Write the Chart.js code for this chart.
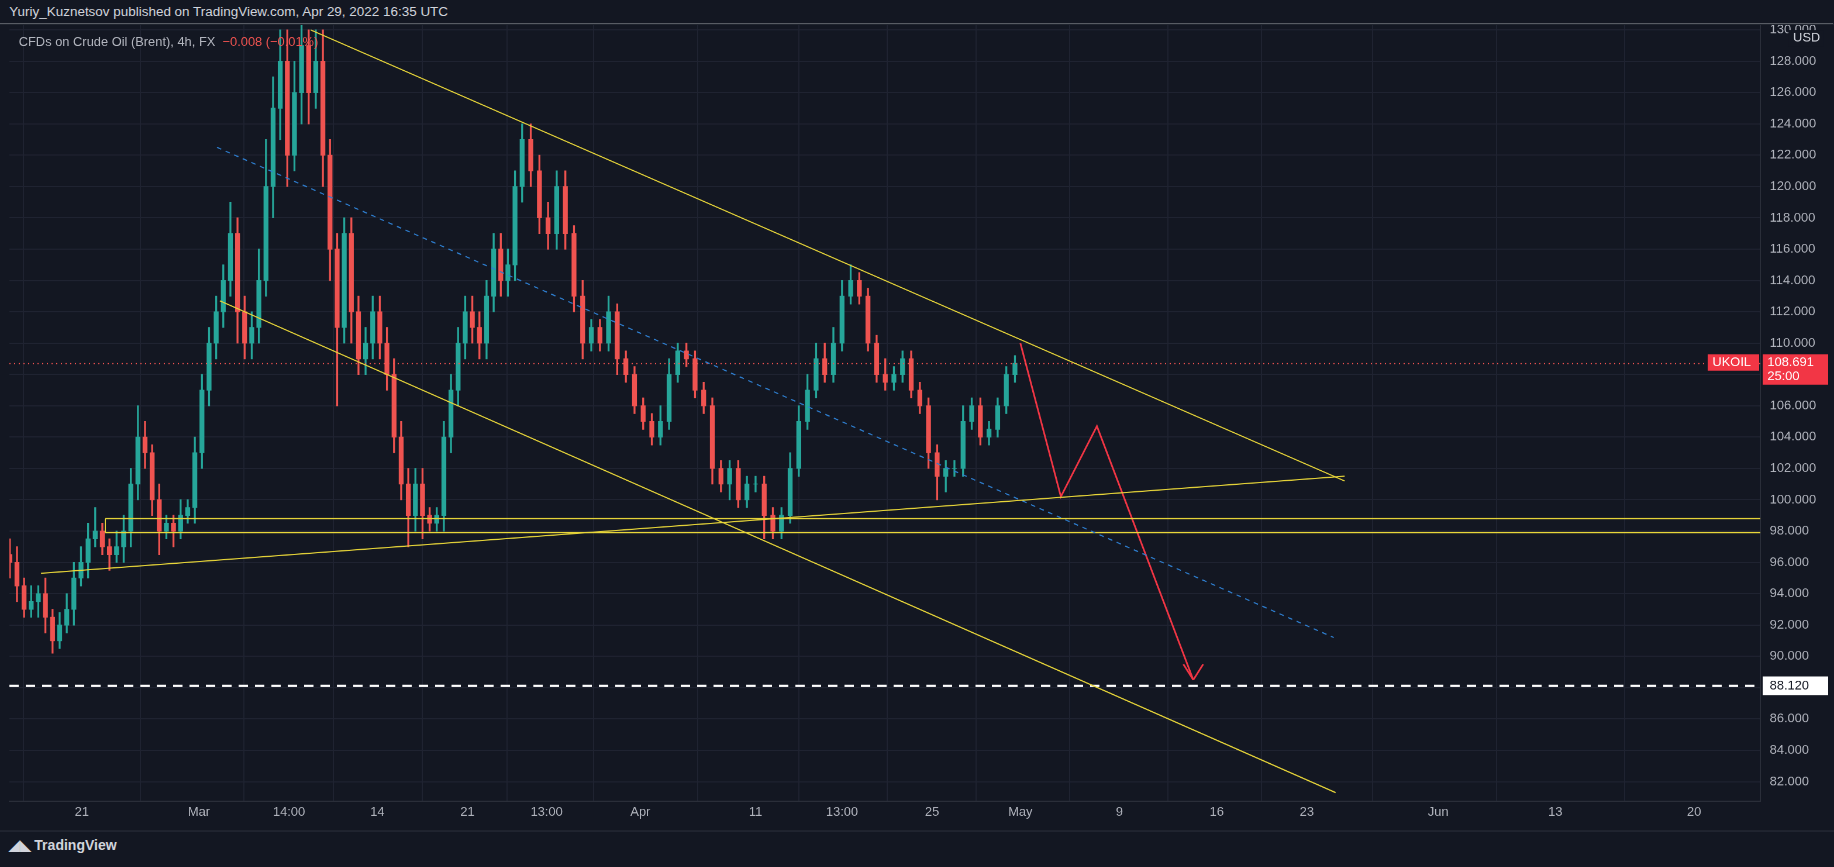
<!DOCTYPE html>
<html><head><meta charset="utf-8">
<script src="https://cdn.jsdelivr.net/npm/chart.js@4"></script>
<style>
html,body{margin:0;padding:0;background:#131722;overflow:hidden;}
#wrap{position:absolute;left:0;top:0;width:1568px;height:741px;transform:scale(1.16964);transform-origin:0 0;background:#131722;font-family:"Liberation Sans",Arial,sans-serif;}
#hdr{position:absolute;left:0;top:0;width:1568px;height:20px;color:#d1d4dc;font-size:11.5px;line-height:20px;padding-left:8px;box-sizing:border-box;z-index:2}
#leg{position:absolute;left:16px;top:29px;color:#b2b5be;font-size:11px;z-index:2}
#leg span{color:#ef5350}
#cv{position:absolute;left:0;top:6px;width:1568px;height:706px;}
#ftr{position:absolute;left:8px;top:716px;color:#d1d4dc;font-size:12px;font-weight:bold;}
#line1{position:absolute;left:0;top:20px;width:1568px;height:1px;background:#2a2e39;z-index:2}
#line2{position:absolute;left:0;top:710px;width:1568px;height:1px;background:#2a2e39}
</style></head><body>
<div id="wrap">
<div id="cv"><canvas id="c"></canvas></div>
<div id="hdr" style="background:#131722">Yuriy_Kuznetsov published on TradingView.com, Apr 29, 2022 16:35 UTC</div>
<div id="line1"></div>
<div id="leg">CFDs on Crude Oil (Brent), 4h, FX&nbsp; <span>−0.008 (−0.01%)</span></div>
<div id="line2"></div>
<div id="ftr">◢◣ TradingView</div>
</div>
<script>
const closes=[96,94.5,93,93.5,94,92.5,91,92,93,95,
96,97.5,98,97,96.5,97,98,101,104,103,
100,98,98.5,98,99,99.5,103,107,110,112,
114,117,112,110,111,114,120,125,128,122,
126,129,126,128,122,116,111,117,112,109,
110,112,110,108,104,101,99,101,99,98.5,
99,104,107,110,112,111,110,113,116,114,
115,120,123,121,118,117,120,117,113,110,
111,110,112,109,108,106,105,104,105,108,
109.5,109,107,106,102,101,102,100,101,101,
99,98,99,102,105,107,109,108,110,113,
114,113,110,108,107.5,108,109,107,106,103,
101.5,102,102,105,106,104,104.5,106,108,108.7];
const wickUp=[1,1,.5,1,.5,1,.5,.8,1,1, 1,1,1.5,.5,.5,1,1,1,2,1, .5,1,.5,.5,1,.5,1,1,1,1, 1,2,1,1,1,2,3,2,2,2, 2,2,1,2,2,1,1,1,1,1, 1,1,1,1,1,1,1,1,1,.5, .5,1,1,1,1,1,1,1,1,1, 1,1,1,1,1,1,1,1,.5,1, .5,.5,1,.5,.5,.5,.5,.5,1,1, .5,.5,.5,.5,.5,.5,.5,.5,.5,.5, .5,.5,.5,1,1,1,1,1,1,1, 1,.5,.5,.5,1,.5,.5,.5,.5,.5, .5,.5,.5,1,.5,.5,.5,.5,.5,.5];
const wickDn=[1,1,.5,.5,1,1,.8,.5,.5,1, .5,1,.5,.5,1,.5,1,1,1,1, 1,1.5,.5,1,.5,.5,1,1,1,1, 1,1,2,1,1,1,1,2,2,2, 1,2,2,1,2,2,5,1,2,1, 1,1,1,1,1,1,2,1,1.5,.5, .5,1,1,1,1,1,1,1,1,1, 1,1,1,1,1,1,1,1,1,1, .5,.5,.5,1,.5,.5,.5,.5,.5,.5, .5,.5,.5,.5,1,.5,1,.5,.5,.5, 1.5,.5,.5,.5,.5,.5,.5,.5,.5,.5, .5,.5,.5,.5,.5,.5,.5,.5,.5,1, 1.5,1,.5,.5,.5,.5,.5,.5,.5,.5];
const firstOpen=96.5, startDay=1.0, stepEarly=0.395, stepLate=0.48, switchIdx=72;
const xTickPos=[5,11.5,16.5,21.4,26.4,30.8,36,42.4,47.2,52.2,57.1,62.6,68,73,80.3,86.8,94.5];
const xTickLbl=["21","Mar","14:00","14","21","13:00","Apr","11","13:00","25","May","9","16","23","Jun","13","20"];
const yTicks=[82,84,86,88,90,92,94,96,98,100,102,104,106,108,110,112,114,116,118,120,122,124,126,128,130];
const upperLine=[17.7,130,75.1,101.2];
const lowerLine=[12.66,112.7,74.6,81.3];
const supportLine=[2.73,95.3,75.1,101.5];
const midDashed=[12.5,122.5,74.5,91.2];
const boxTop=98.8, boxBot=97.9, boxStart=6.3;
const redPathX=[57.1,59.35,61.35,66.7], redPathY=[110,100.2,104.7,88.5];
const targetLevel=88.12, lastPrice=108.691;

const n=closes.length;
const bodies=[],wicks=[],cols=[];
let x=startDay;
for(let i=0;i<n;i++){
  const o=i?closes[i-1]:firstOpen, c=closes[i];
  bodies.push({x,y:[o,c]});
  wicks.push({x,y:[Math.min(o,c)-wickDn[i],Math.max(o,c)+wickUp[i]]});
  cols.push(c>=o?'#26a69a':'#ef5350');
  x+= i<switchIdx?stepEarly:stepLate;
}
const seg=(a,color,dash,w)=>({type:'line',data:[{x:a[0],y:a[1]},{x:a[2],y:a[3]}],borderColor:color,borderWidth:w||1,borderDash:dash||[],pointRadius:0,fill:false,order:0});
const XMIN=0.974,XMAX=98.18;
const datasets=[
 {type:'bar',data:wicks,backgroundColor:cols,barThickness:1,grouped:false,order:3},
 {type:'bar',data:bodies,backgroundColor:cols,barThickness:3.5,grouped:false,order:2},
 seg(upperLine,'#e8d63a'),seg(lowerLine,'#e8d63a'),seg(supportLine,'#e8d63a'),
 seg(midDashed,'#2f7fd0',[4,4]),
 seg([boxStart,boxTop,XMAX,boxTop],'#e8d63a'),seg([boxStart,boxBot,XMAX,boxBot],'#e8d63a'),
 seg([boxStart,boxTop,boxStart,boxBot],'#e8d63a'),
 seg([XMIN,targetLevel,XMAX,targetLevel],'#ffffff',[8,6],2),
 seg([XMIN,lastPrice,XMAX,lastPrice],'#ef5350',[1,3]),
 {type:'line',data:redPathX.map((x,i)=>({x,y:redPathY[i]})),borderColor:'#f23645',borderWidth:1.5,pointRadius:0,order:0},
 seg([66.7,88.5,66.15,89.5],'#f23645',null,1.5),seg([66.7,88.5,67.25,89.5],'#f23645',null,1.5)
];
const tags={id:'tags',afterDraw(ch){
  const ctx=ch.ctx,y=ch.scales.y,x0=ch.chartArea.right;
  ctx.save();ctx.font='11px "Liberation Sans",Arial';ctx.textBaseline='middle';
  let py=y.getPixelForValue(lastPrice);
  ctx.fillStyle='#f23645';ctx.fillRect(x0+2,py-8,56,26);
  ctx.fillRect(x0-45,py-8,44,14);
  ctx.fillStyle='#fff';ctx.fillText('108.691',x0+6,py-1);ctx.fillText('25:00',x0+6,py+11);
  ctx.fillText('UKOIL',x0-41,py-1);
  py=y.getPixelForValue(targetLevel);
  ctx.fillStyle='#fff';ctx.fillRect(x0+2,py-8,56,16);
  ctx.fillStyle='#131722';ctx.fillText('88.120',x0+8,py);
  ctx.fillStyle='#131722';ctx.fillRect(x0+24,ch.chartArea.top+5,30,14);
  ctx.fillStyle='#d1d4dc';ctx.fillText('USD',x0+28,ch.chartArea.top+12);
  ctx.restore();}};
new Chart(document.getElementById('c'),{
 data:{datasets},
 plugins:[tags],
 options:{responsive:true,maintainAspectRatio:false,animation:false,devicePixelRatio:2,
  layout:{padding:{left:8,top:2,right:0,bottom:0}},
  plugins:{legend:{display:false},tooltip:{enabled:false}},
  scales:{
   x:{type:'linear',min:XMIN,max:XMAX,offset:false,
     afterBuildTicks(s){s.ticks=xTickPos.map(v=>({value:v}));},
     afterFit(s){s.height=27;},
     ticks:{autoSkip:false,maxRotation:0,color:'#b2b5be',font:{size:11},callback:(v)=>{const i=xTickPos.indexOf(v);return i>=0?xTickLbl[i]:'';}},
     grid:{color:'#1f2331',drawTicks:false},border:{color:'#2a2e39'}},
   y:{position:'right',min:80.75,max:130.37,
     afterBuildTicks(s){s.ticks=yTicks.map(v=>({value:v}));},
     afterFit(s){s.width=63;},
     ticks:{color:'#b2b5be',font:{size:11},padding:8,callback:v=>v.toFixed(3)},
     grid:{color:'#1f2331',drawTicks:false},border:{color:'#2a2e39'}}
  }}
});
</script></body></html>
